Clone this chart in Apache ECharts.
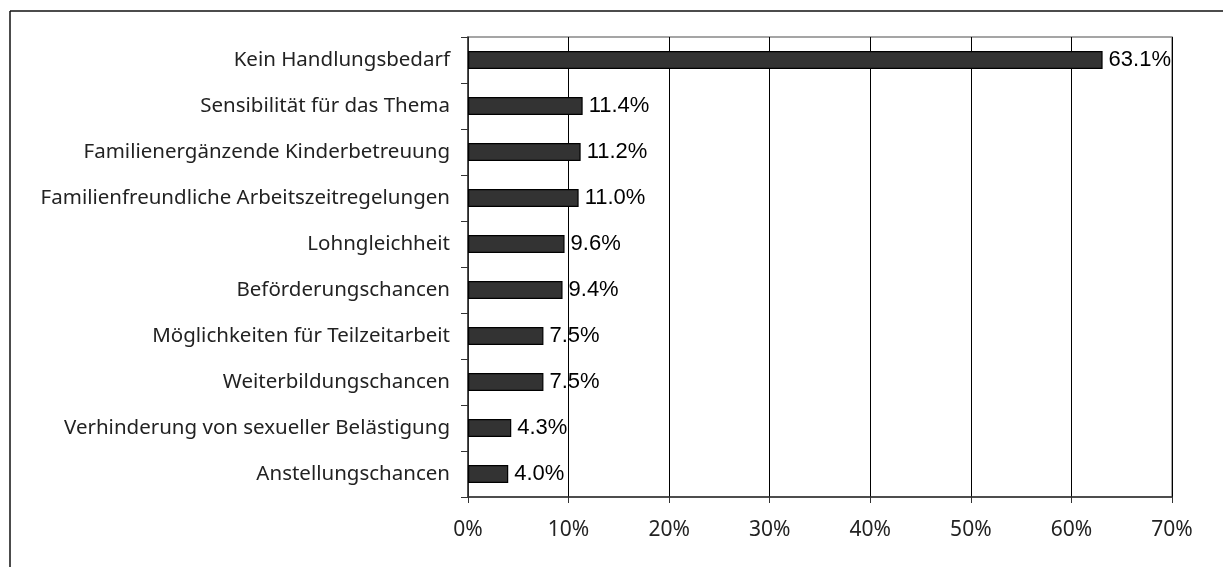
<!DOCTYPE html>
<html>
<head>
<meta charset="utf-8">
<script src="https://cdn.jsdelivr.net/npm/echarts@6/dist/echarts.min.js"></script>
<style>
  html, body { margin: 0; padding: 0; background: #fff; }
  #chart { width: 1223px; height: 567px; }
</style>
</head>
<body>
<div id="chart"></div>
<script>
const categories = [
  'Kein Handlungsbedarf',
  'Sensibilität für das Thema',
  'Familienergänzende Kinderbetreuung',
  'Familienfreundliche Arbeitszeitregelungen',
  'Lohngleichheit',
  'Beförderungschancen',
  'Möglichkeiten für Teilzeitarbeit',
  'Weiterbildungschancen',
  'Verhinderung von sexueller Belästigung',
  'Anstellungschancen'
];
const values = [63.1, 11.4, 11.2, 11.0, 9.6, 9.4, 7.5, 7.5, 4.3, 4.0];
const xTicks = [0, 10, 20, 30, 40, 50, 60, 70];

const chart = echarts.init(document.getElementById('chart'));

chart.setOption({
  animation: false,
  graphic: [
    { type: 'line', shape: { x1: 10, y1: 11, x2: 1223, y2: 11 }, style: { stroke: '#111', lineWidth: 1.5 } },
    { type: 'line', shape: { x1: 10, y1: 11, x2: 10, y2: 567 }, style: { stroke: '#111', lineWidth: 1.5 } }
  ],
  grid: {
    left: 468, right: 51, top: 37, bottom: 70,
    show: true, borderColor: '#888', borderWidth: 1.5
  },
  xAxis: {
    type: 'value',
    min: xTicks[0],
    max: xTicks[xTicks.length - 1],
    interval: 10,
    axisLine: { show: true, lineStyle: { color: '#333', width: 1.5 } },
    axisTick: { show: true, length: 6, lineStyle: { color: '#333' } },
    axisLabel: {
      margin: 23,
      formatter: v => v + '%',
      fontFamily: 'Noto Sans', fontSize: 21, color: '#222'
    },
    splitLine: { show: true, lineStyle: { color: '#000', width: 1 } }
  },
  yAxis: {
    type: 'category',
    data: categories,
    inverse: true,
    axisLine: { show: true, lineStyle: { color: '#333', width: 1.5 } },
    axisTick: { show: true, length: 7, lineStyle: { color: '#333' } },
    axisLabel: {
      margin: 18,
      fontFamily: 'Noto Sans', fontSize: 20.5, color: '#222'
    }
  },
  series: [{
    type: 'bar',
    data: values,
    barWidth: 18,
    itemStyle: { color: '#333', borderColor: '#000', borderWidth: 1.2 },
    label: {
      show: true,
      position: 'right',
      distance: 6,
      formatter: p => p.value.toFixed(1) + '%',
      fontFamily: 'Liberation Sans', fontSize: 22, color: '#000'
    }
  }]
});
</script>
</body>
</html>
